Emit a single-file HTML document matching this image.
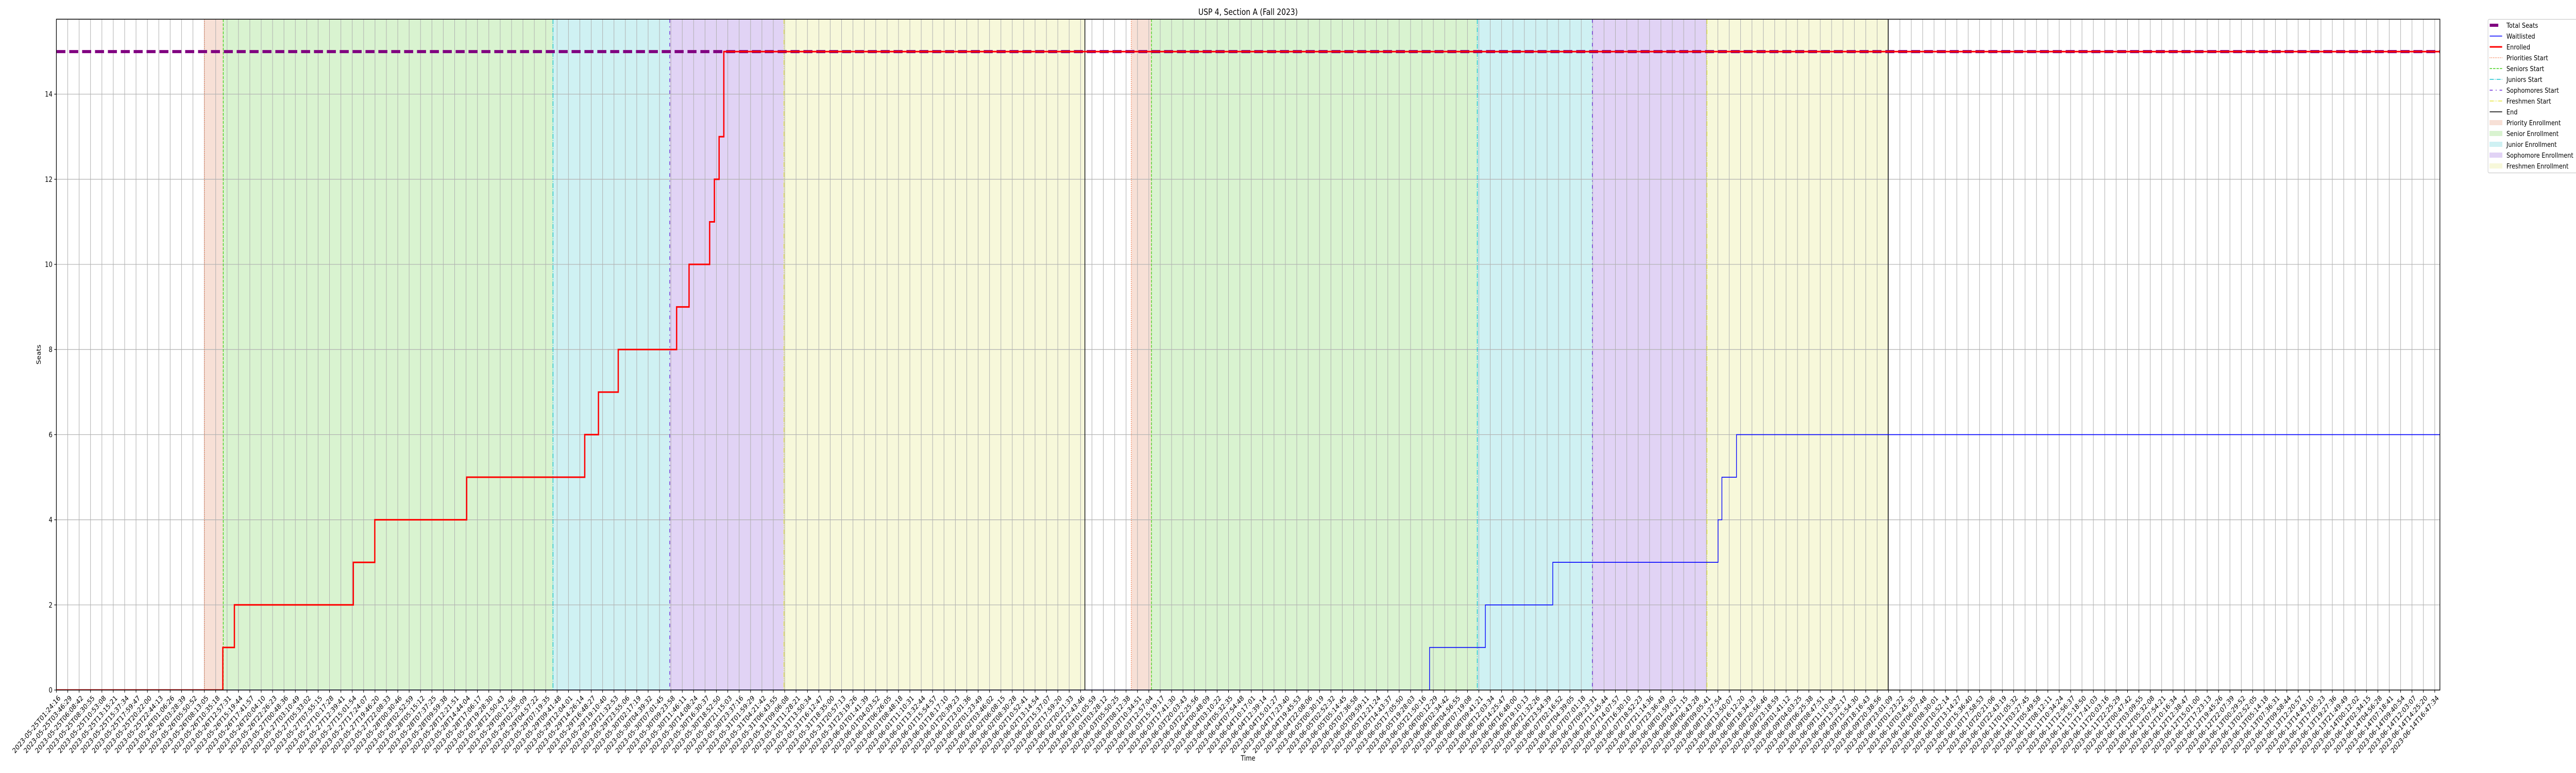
<!DOCTYPE html>
<html><head><meta charset="utf-8"><title>USP 4, Section A (Fall 2023)</title>
<style>
html,body{margin:0;padding:0;background:#fff;width:100%;height:100%;overflow:hidden;}
body{position:fixed;left:0;top:0;right:0;bottom:0;}
svg{display:block;font-family:"DejaVu Sans","Liberation Sans",sans-serif;overflow:hidden;width:100vw;height:100vh;}
</style></head>
<body>
<svg id="chart" xmlns="http://www.w3.org/2000/svg" viewBox="0 0 6000 1500" preserveAspectRatio="none">
  <rect x="0" y="0" width="6000" height="1500" fill="#fff"/>
  <defs>
    <clipPath id="plotclip"><rect x="131.3" y="37.3" width="5551.7" height="1301.7"/></clipPath>
    <clipPath id="legclip"><rect x="5780" y="30" width="220" height="320"/></clipPath>
  </defs>
  <g id="spans" clip-path="url(#plotclip)"></g>
  <g id="grid" clip-path="url(#plotclip)"></g>
  <g id="events" clip-path="url(#plotclip)"></g>
  <g id="series" clip-path="url(#plotclip)"></g>
  <rect x="131.3" y="37.3" width="5551.7" height="1301.7" fill="none" stroke="#000" stroke-width="1.5"/>
  <g id="xticks"></g>
  <g id="yticks"></g>
  <text x="2907" y="29" text-anchor="middle" font-size="16.7" fill="#000">USP 4, Section A (Fall 2023)</text>
  <text x="2907" y="1476" text-anchor="middle" font-size="13.9" fill="#000">Time</text>
  <text transform="translate(95,688) rotate(-90)" text-anchor="middle" font-size="13.9" fill="#000">Seats</text>
  <g id="legend" clip-path="url(#legclip)"></g>
</svg>
<script>
// ---- data (hours since 2023-05-25T01:24:16) ----
const totalSeats = 15;
const enrolledTimes = [0, 34.67, 37.08, 61.85, 66.32, 85.46, 110.05, 112.91, 117.03, 129.19, 131.78, 136.07, 137.06, 138.04, 139.02];
const enrolledValues = [0, 1, 2, 3, 4, 5, 6, 7, 8, 9, 10, 11, 12, 13, 15];
const waitlistTimes = [0, 286.02, 297.64, 311.68, 346.11, 346.91, 349.95];
const waitlistValues = [0, 1, 2, 3, 4, 5, 6];
const prioritiesStart = [30.82, 223.89];
const seniorsStart = [34.76, 228.09];
const juniorsStart = [103.44, 295.96];
const sophomoresStart = [127.76, 319.93];
const freshmenStart = [151.55, 343.80];
const endTimes = [214.23, 381.54];
const yTicks = [0, 2, 4, 6, 8, 10, 12, 14];
const tickStart = "2023-05-25T01:24:16";
const tickEnd = "2023-06-14T16:47:34";
const tickCount = 210;
const xMaxHours = 496.46;
const yMax = 15.76;

// ---- axes ----
const L = 131.3, R = 5683, T = 37.3, B = 1339;
function xs(h){ return L + h * (R - L) / xMaxHours; }
function ys(v){ return B - v * (B - T) / yMax; }
const NS = "http://www.w3.org/2000/svg";
function mk(tag, attrs, parent){
  const e = document.createElementNS(NS, tag);
  for (const k in attrs) e.setAttribute(k, attrs[k]);
  parent.appendChild(e);
  return e;
}
const t0 = Date.parse(tickStart + "Z"), t1 = Date.parse(tickEnd + "Z");
const totalHours = (t1 - t0) / 3600000;
const tickLabels = [];
for (let i = 0; i < tickCount; i++) {
  const d = new Date(t0 + (t1 - t0) * i / (tickCount - 1));
  tickLabels.push(d.toISOString().slice(0, 19));
}

// spans
const spansG = document.getElementById('spans');
const spanDefs = [
  [prioritiesStart, seniorsStart, '#f7e0d6', 'priority-enrollment-span'],
  [seniorsStart, juniorsStart, '#d9f3d0', 'senior-enrollment-span'],
  [juniorsStart, sophomoresStart, '#cff1f3', 'junior-enrollment-span'],
  [sophomoresStart, freshmenStart, '#e1d3f5', 'sophomore-enrollment-span'],
  [freshmenStart, endTimes, '#f7f8da', 'freshmen-enrollment-span']
];
spanDefs.forEach(sd => {
  for (let k = 0; k < sd[0].length; k++) {
    const x0 = xs(sd[0][k]), x1 = xs(sd[1][k]);
    const r = mk('rect', {x: x0, y: T, width: x1 - x0, height: B - T, fill: sd[2]}, spansG);
    
    
  }
});

// grid + ticks
const gridG = document.getElementById('grid');
const xtG = document.getElementById('xticks');
tickLabels.forEach((lab, i) => {
  const h = totalHours * i / (tickCount - 1);
  const x = xs(h);
  const gl = mk('line', {x1: x, x2: x, y1: T, y2: B, stroke: '#b0b0b0', 'stroke-width': 1.2}, gridG);
  
  
  const tk = mk('line', {x1: x, x2: x, y1: B, y2: B + 5, stroke: '#000', 'stroke-width': 1.2}, xtG);
  
  
  const tx = mk('text', {transform: 'translate(' + (x + 2) + ',' + (B + 8) + ') rotate(-45)', 'text-anchor': 'end', 'dominant-baseline': 'text-before-edge', 'font-size': 13.9, fill: '#000'}, xtG);
  tx.textContent = lab;
  
  
});
const ytG = document.getElementById('yticks');
yTicks.forEach(v => {
  const y = ys(v);
  const gl = mk('line', {x1: L, x2: R, y1: y, y2: y, stroke: '#b0b0b0', 'stroke-width': 1.2}, gridG);
  
  
  const tk = mk('line', {x1: L - 5, x2: L, y1: y, y2: y, stroke: '#000', 'stroke-width': 1.2}, ytG);
  
  
  const tx = mk('text', {x: L - 9, y: y + 5, 'text-anchor': 'end', 'font-size': 13.9, fill: '#000'}, ytG);
  tx.textContent = String(v);
  
  
});

// event lines
const evG = document.getElementById('events');
const evDefs = [
  [prioritiesStart, '#f26b38', '1.5,2.5', 'priorities-start-line'],
  [seniorsStart, '#44d11a', '5.5,2.4', 'seniors-start-line'],
  [juniorsStart, '#17c3cd', '9.6,2.4,1.5,2.4', 'juniors-start-line'],
  [sophomoresStart, '#6a28d8', '7,7,2,7', 'sophomores-start-line'],
  [freshmenStart, '#e5e53a', '9.6,2.4,1.5,2.4,1.5,2.4', 'freshmen-start-line'],
  [endTimes, '#000000', 'none', 'end-line']
];
evDefs.forEach(ed => {
  ed[0].forEach(t => {
    const x = xs(t);
    const ln = mk('line', {x1: x, x2: x, y1: T, y2: B, stroke: ed[1], 'stroke-width': 1.6, 'stroke-dasharray': ed[2]}, evG);
    
    
  });
});

// series
const serG = document.getElementById('series');
const tsl = mk('line', {x1: L, x2: R, y1: ys(totalSeats), y2: ys(totalSeats), stroke: '#800080', 'stroke-width': 6, 'stroke-dasharray': '21,9'}, serG);


function stepPath(ts, vs){
  let d = 'M' + xs(ts[0]) + ' ' + ys(vs[0]);
  for (let i = 1; i < ts.length; i++) d += ' H' + xs(ts[i]) + ' V' + ys(vs[i]);
  d += ' H' + xs(xMaxHours);
  return d;
}
const wl = mk('path', {d: stepPath(waitlistTimes, waitlistValues), fill: 'none', stroke: '#0000ff', 'stroke-width': 1.6}, serG);


const el = mk('path', {d: stepPath(enrolledTimes, enrolledValues), fill: 'none', stroke: '#ff0000', 'stroke-width': 3}, serG);



// legend
const lg = document.getElementById('legend');
const box = mk('rect', {x: 5795, y: 37.5, width: 210, height: 298, rx: 3, fill: '#fff', 'fill-opacity': 0.8, stroke: '#cccccc', 'stroke-width': 1.2}, lg);


const legItems = [
  ['Total Seats', 'line', '#800080', 6, 'none', 20],
  ['Waitlisted', 'line', '#0000ff', 1.6, 'none', 29],
  ['Enrolled', 'line', '#ff0000', 3, 'none', 29],
  ['Priorities Start', 'line', '#f26b38', 1.6, '1.5,2.5', 29],
  ['Seniors Start', 'line', '#44d11a', 1.6, '5.5,2.4', 29],
  ['Juniors Start', 'line', '#17c3cd', 1.6, '9.6,2.4,1.5,2.4', 29],
  ['Sophomores Start', 'line', '#6a28d8', 1.6, '7,7,2,7', 29],
  ['Freshmen Start', 'line', '#e5e53a', 1.6, '9.6,2.4,1.5,2.4,1.5,2.4', 29],
  ['End', 'line', '#000000', 1.6, 'none', 29],
  ['Priority Enrollment', 'patch', '#f7e0d6'],
  ['Senior Enrollment', 'patch', '#d9f3d0'],
  ['Junior Enrollment', 'patch', '#cff1f3'],
  ['Sophomore Enrollment', 'patch', '#e1d3f5'],
  ['Freshmen Enrollment', 'patch', '#f7f8da']
];
legItems.forEach((it, i) => {
  const cy = 49 + i * 21;
  const g = mk('g', {}, lg);
  
  
  if (it[1] === 'line') {
    mk('line', {x1: 5799, x2: 5799 + it[5], y1: cy, y2: cy, stroke: it[2], 'stroke-width': it[3], 'stroke-dasharray': it[4]}, g);
  } else {
    mk('rect', {x: 5799, y: cy - 4.5, width: 29, height: 9, fill: it[2], stroke: it[2]}, g);
  }
  const tx = mk('text', {x: 5838, y: cy + 5, 'font-size': 13.6, fill: '#000'}, g);
  tx.textContent = it[0];
});
</script>
</body></html>
